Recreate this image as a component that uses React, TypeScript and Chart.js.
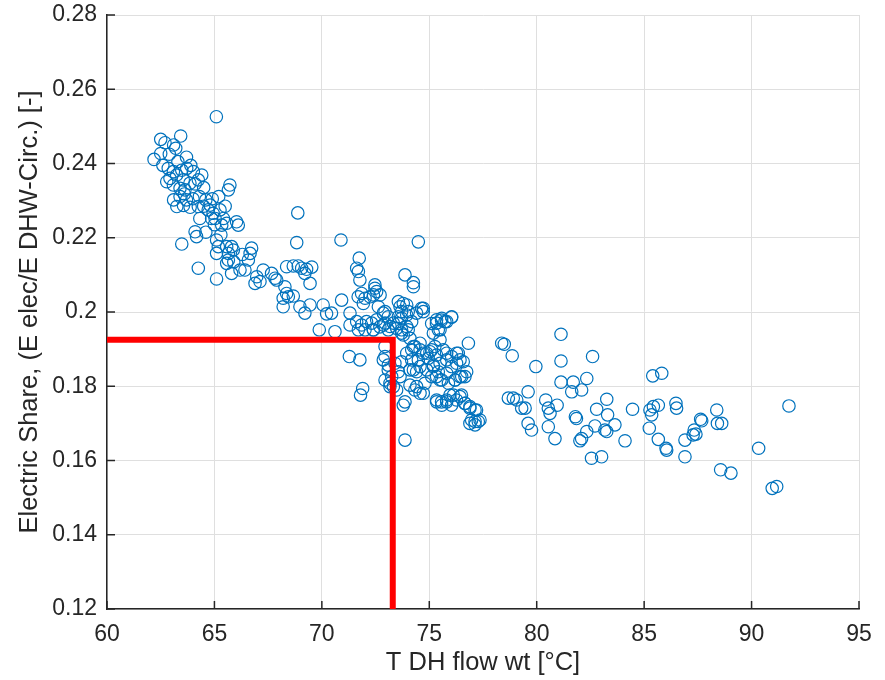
import React, { useEffect, useRef } from "react";
import { Chart, registerables } from "chart.js";

Chart.register(...registerables);

// T DH flow wt [°C]
const flowTemp = [
  65.09, 62.5, 63.43, 62.7, 63.1, 63.2, 62.19, 63.7, 62.5, 62.85,
  63.09, 62.93, 63.24, 63.48, 63.71, 63.55, 64.02, 63.86, 64.25, 64.41,
  63.09, 63.4, 62.78, 63.63, 65.72, 65.65, 63.1, 63.4, 63.7, 64.0,
  64.3, 64.6, 64.9, 65.2, 63.25, 63.56, 63.87, 64.25, 64.71, 64.94,
  65.26, 65.03, 65.42, 64.87, 65.57, 65.34, 66.03, 66.11, 64.32, 64.1,
  64.17, 63.48, 65.1, 65.18, 65.1, 65.57, 65.8, 65.65, 65.88, 66.73,
  66.66, 66.58, 65.65, 65.57, 64.25, 65.1, 65.8, 66.19, 66.42, 66.97,
  67.12, 66.89, 67.27, 67.66, 67.82,
  62.6, 62.9, 63.3, 63.9, 64.1, 64.5, 63.6, 64.5, 64.8, 65.5,
  65.0, 64.6, 65.3, 65.9, 66.3,
  68.88, 68.83, 70.89, 71.74, 71.62, 71.7, 71.77, 73.87, 74.26, 74.49,
  67.9, 68.36, 68.67, 68.9, 69.06, 69.29, 69.53, 69.21, 69.45, 68.28,
  68.36, 68.2, 68.44, 68.67, 68.2, 68.98, 69.21, 69.45, 70.06, 70.45,
  70.22, 70.92, 69.88, 70.61, 71.31, 71.69, 71.85, 72.01, 71.93, 72.24,
  72.47, 72.55, 71.31, 71.62, 71.85, 72.08, 72.32, 71.7, 72.01, 72.39,
  72.7, 72.94, 73.09, 73.33, 73.56, 73.71, 73.95, 74.18, 74.02, 74.41,
  71.28, 71.77, 72.94, 72.94, 73.09, 73.4, 73.71, 73.95, 74.26, 74.1,
  74.41, 71.9, 71.8, 73.17, 73.33, 73.48, 74.1, 74.33, 73.79,
  74.72, 73.95, 73.64, 75.34, 75.57, 75.81, 76.04, 75.5, 75.19, 76.82,
  74.57, 74.88, 75.11, 75.34, 75.65, 75.81, 76.27, 76.43, 74.57, 74.88,
  75.19, 75.42, 75.11, 75.5, 75.81, 76.04, 76.2, 76.43, 76.66, 74.72,
  75.34, 75.57, 75.81, 75.96, 76.27, 76.5, 76.66, 76.89, 77.13, 76.89,
  77.13, 77.28, 73.87, 78.37, 72.86, 73.48, 73.71, 73.56, 73.64, 74.18,
  74.26,
  72.47, 72.4, 72.71, 72.63, 72.94, 73.09, 72.55, 72.86, 73.17, 72.4,
  73.56, 73.79, 73.71, 74.02, 74.26, 74.64, 74.72,
  73.56, 73.71, 73.95, 73.79, 74.1, 74.33, 74.18, 74.57, 74.72, 74.49,
  75.11, 75.34, 75.58, 75.73, 76.04, 75.42, 75.5, 75.26, 75.03, 74.95,
  75.19, 75.5, 75.81, 76.04, 76.35, 76.27, 76.58, 76.74, 76.51, 76.2,
  75.89, 75.58, 75.34, 74.8, 74.57, 74.41,
  75.34, 75.58, 75.81, 76.04, 76.12, 76.43, 76.66, 76.89, 77.2, 76.97,
  77.13, 77.36, 72.94, 73.17, 73.25, 73.87, 72.86, 73.09,
  81.13, 78.49, 78.86, 79.96, 81.13, 82.6, 81.13, 81.7, 82.33, 81.63,
  82.09, 79.6, 78.68, 78.91, 79.07, 79.3, 79.46, 80.42, 80.95, 80.54,
  80.62, 79.6, 79.76, 80.54, 80.85, 81.8, 81.85, 82.79, 83.26, 83.3,
  83.64, 83.17, 83.26, 84.46, 82.71, 82.33, 82.09, 82.01, 84.11, 82.55,
  83.02,
  85.4, 85.82, 85.27, 85.43, 85.66, 85.35, 86.48, 86.51, 85.24, 85.66,
  86.02, 86.05, 86.9, 86.9, 87.33, 87.41, 87.28, 87.63, 87.68, 88.38,
  88.41, 88.61, 88.56, 89.04, 90.33, 90.96, 91.17, 91.74,
];

// Electric Share (E elec / E DHW-Circ.) [-]
const elecShare = [
  0.2526, 0.2465, 0.2474, 0.2456, 0.245, 0.2441, 0.2411, 0.2417, 0.2427, 0.2387,
  0.2378, 0.236, 0.2369, 0.2382, 0.2387, 0.2356, 0.2378, 0.2347, 0.2356, 0.2369,
  0.2342, 0.2333, 0.2351, 0.2329, 0.2342, 0.2329, 0.2302, 0.2311, 0.2302, 0.2305,
  0.2311, 0.2302, 0.2305, 0.2311, 0.2284, 0.2287, 0.2282, 0.2284, 0.2275, 0.2266,
  0.2275, 0.2252, 0.2252, 0.2252, 0.2239, 0.2234, 0.2243, 0.2234, 0.2252, 0.2216,
  0.2203, 0.2183, 0.2194, 0.2176, 0.2158, 0.2176, 0.2176, 0.2158, 0.2167, 0.2172,
  0.2158, 0.214, 0.214, 0.2131, 0.2118, 0.2089, 0.2104, 0.2113, 0.2113, 0.2095,
  0.2082, 0.2077, 0.2113, 0.2104, 0.2091,
  0.2395, 0.2425, 0.2405, 0.2395, 0.2345, 0.2335, 0.2318, 0.2285, 0.2288, 0.2285,
  0.2235, 0.2215, 0.2208, 0.2135, 0.2155,
  0.2267, 0.2187, 0.2194, 0.2145, 0.2118, 0.2109, 0.2086, 0.21, 0.2079, 0.2189,
  0.2086, 0.2122, 0.2124, 0.2124, 0.2118, 0.2115, 0.2121, 0.2104, 0.2077, 0.2068,
  0.205, 0.2037, 0.2041, 0.2043, 0.2014, 0.2014, 0.1997, 0.2019, 0.2019, 0.1997,
  0.1995, 0.2032, 0.1952, 0.1947, 0.1997, 0.2041, 0.205, 0.2037, 0.2023, 0.2041,
  0.2064, 0.2055, 0.1965, 0.1974, 0.1965, 0.1974, 0.197, 0.1952, 0.1952, 0.1952,
  0.196, 0.197, 0.1952, 0.197, 0.1987, 0.1983, 0.1992, 0.1974, 0.1952, 0.1997,
  0.188, 0.1871, 0.1907, 0.188, 0.1844, 0.1862, 0.1866, 0.1889, 0.1907, 0.1844,
  0.1839, 0.1794, 0.1776, 0.1808, 0.1799, 0.179, 0.1803, 0.179, 0.1749,
  0.201, 0.2019, 0.2014, 0.197, 0.1978, 0.1974, 0.1986, 0.1952, 0.1943, 0.1916,
  0.1898, 0.1889, 0.1898, 0.1884, 0.1898, 0.1889, 0.1889, 0.1871, 0.1853, 0.1844,
  0.1853, 0.1839, 0.1826, 0.1817, 0.1835, 0.1853, 0.1817, 0.1826, 0.1826, 0.1781,
  0.1763, 0.1758, 0.1763, 0.1776, 0.1763, 0.1776, 0.1754, 0.1745, 0.1736, 0.17,
  0.1696, 0.1705, 0.1655, 0.1916, 0.1997, 0.1956, 0.1943, 0.1839, 0.1826, 0.1871,
  0.1844,
  0.2073, 0.2046, 0.2046, 0.2014, 0.2001, 0.1987, 0.1979, 0.1965, 0.1961, 0.1952,
  0.2028, 0.2023, 0.2001, 0.2001, 0.2068, 0.201, 0.2001,
  0.1969, 0.1952, 0.1961, 0.1938, 0.1929, 0.1907, 0.1898, 0.1916, 0.1889, 0.1871,
  0.1969, 0.1979, 0.1983, 0.1974, 0.1987, 0.1952, 0.1925, 0.1907, 0.1893, 0.1875,
  0.1857, 0.1862, 0.1871, 0.188, 0.1889, 0.1862, 0.1866, 0.1839, 0.1826, 0.1817,
  0.1808, 0.1817, 0.1826, 0.1808, 0.1781, 0.1799,
  0.1758, 0.1749, 0.1758, 0.1749, 0.1776, 0.1772, 0.1754, 0.1741, 0.1736, 0.1709,
  0.1705, 0.1709, 0.1817, 0.1799, 0.1826, 0.1758, 0.1871, 0.1857,
  0.194, 0.1913, 0.1882, 0.1853, 0.1868, 0.188, 0.1811, 0.1811, 0.1821, 0.1785,
  0.179, 0.1785, 0.1768, 0.1768, 0.1763, 0.1741, 0.1741, 0.1763, 0.1749, 0.1741,
  0.1727, 0.17, 0.1682, 0.1691, 0.1659, 0.1718, 0.1713, 0.1738, 0.1765, 0.1723,
  0.1696, 0.1682, 0.1678, 0.1738, 0.1693, 0.1678, 0.1659, 0.1653, 0.1653, 0.1606,
  0.161,
  0.1828, 0.1835, 0.1736, 0.1745, 0.1749, 0.1723, 0.1754, 0.1741, 0.1687, 0.1657,
  0.1633, 0.1628, 0.1655, 0.161, 0.1682, 0.1671, 0.1669, 0.1711, 0.1707, 0.1736,
  0.17, 0.17, 0.1575, 0.1566, 0.1633, 0.1525, 0.153, 0.1747,
];

// red marker lines
const markerX = [60, 73.3, 73.3];
const markerY = [0.1925, 0.1925, 0.12];

const xTicks = [60, 65, 70, 75, 80, 85, 90, 95];
const xTickLabels = ["60", "65", "70", "75", "80", "85", "90", "95"];
const yTicks = [0.12, 0.14, 0.16, 0.18, 0.2, 0.22, 0.24, 0.26, 0.28];
const yTickLabels = ["0.12", "0.14", "0.16", "0.18", "0.2", "0.22", "0.24", "0.26", "0.28"];

const FONT = "'Liberation Sans', Arial, Helvetica, sans-serif";
const AXIS = "#262626";

const innerTicks = {
  id: "innerTicks",
  afterDraw(chart: any) {
    const { ctx, chartArea, scales } = chart;
    const len = 8;
    ctx.save();
    ctx.strokeStyle = AXIS;
    ctx.lineWidth = 1.5;
    ctx.beginPath();
    xTicks.forEach((v) => {
      const p = scales.x.getPixelForValue(v);
      ctx.moveTo(p, chartArea.bottom);
      ctx.lineTo(p, chartArea.bottom - len);
    });
    yTicks.forEach((v) => {
      const p = scales.y.getPixelForValue(v);
      ctx.moveTo(chartArea.left, p);
      ctx.lineTo(chartArea.left + len, p);
    });
    ctx.stroke();
    ctx.restore();
  },
};

export default function App() {
  const ref = useRef<HTMLCanvasElement | null>(null);
  useEffect(() => {
    if (!ref.current) return;
    const chart = new Chart(ref.current, {
      type: "scatter",
      data: {
        datasets: [
          {
            type: "line",
            label: "threshold",
            data: markerX.map((x, i) => ({ x, y: markerY[i] })),
            borderColor: "#ff0000",
            borderWidth: 6,
            pointRadius: 0,
            fill: false,
            tension: 0,
            borderJoinStyle: "miter",
            borderCapStyle: "butt",
            order: 0,
          } as any,
          {
            label: "data",
            data: flowTemp.map((x, i) => ({ x, y: elecShare[i] })),
            borderColor: "#0072BD",
            backgroundColor: "rgba(0,0,0,0)",
            pointRadius: 6.2,
            pointBorderWidth: 1.2,
            pointHoverRadius: 6.2,
            order: 1,
          },
        ],
      },
      options: {
        animation: false,
        responsive: false,
        events: [],
        layout: { padding: { top: 15, right: 26, bottom: 0, left: 0 } },
        plugins: { legend: { display: false }, tooltip: { enabled: false } },
        scales: {
          x: {
            type: "linear",
            min: 60,
            max: 95,
            afterFit: (s: any) => {
              s.height = 71;
              s.paddingLeft = 0;
              s.paddingRight = 0;
            },
            afterBuildTicks: (s: any) => {
              s.ticks = xTicks.map((v) => ({ value: v }));
            },
            ticks: {
              color: AXIS,
              font: { family: FONT, size: 23 },
              padding: 12,
              callback: (_v: any, i: number) => xTickLabels[i],
            },
            grid: { color: "#dfdfdf", lineWidth: 1, drawTicks: false },
            border: { display: true, color: AXIS, width: 1.5 },
            title: {
              display: true,
              text: "T DH flow wt [°C]",
              color: AXIS,
              font: { family: FONT, size: 25.5 },
              padding: { top: 0, bottom: 2 },
            },
          },
          y: {
            type: "linear",
            min: 0.12,
            max: 0.28,
            afterFit: (s: any) => {
              s.width = 107;
              s.paddingTop = 0;
              s.paddingBottom = 0;
            },
            afterBuildTicks: (s: any) => {
              s.ticks = yTicks.map((v) => ({ value: v }));
            },
            ticks: {
              color: AXIS,
              font: { family: FONT, size: 23 },
              padding: 10,
              callback: (_v: any, i: number) => yTickLabels[i],
            },
            grid: { color: "#dfdfdf", lineWidth: 1, drawTicks: false },
            border: { display: true, color: AXIS, width: 1.5 },
            title: {
              display: true,
              text: "Electric Share, (E elec/E DHW-Circ.) [-]",
              color: AXIS,
              font: { family: FONT, size: 25.5 },
              padding: { top: 15, bottom: 0 },
            },
          },
        },
      },
      plugins: [innerTicks],
    });
    return () => chart.destroy();
  }, []);

  return (
    <div style={{ position: "absolute", left: 0, top: 0, width: 885, height: 680, background: "#fff" }}>
      <canvas ref={ref} width={885} height={680} />
    </div>
  );
}
